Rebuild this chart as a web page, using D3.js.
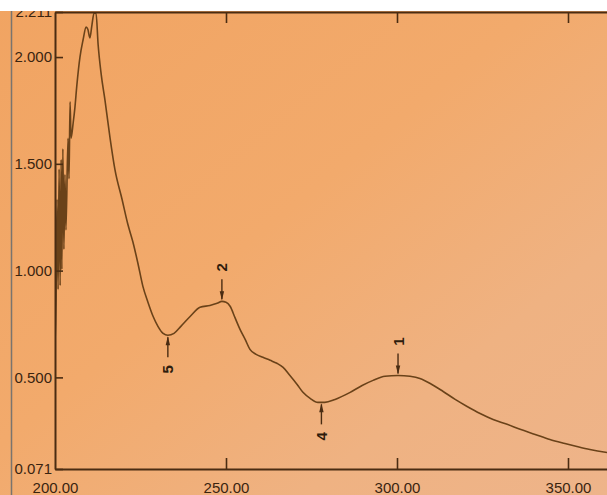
<!DOCTYPE html>
<html>
<head>
<meta charset="utf-8">
<script src="https://cdn.jsdelivr.net/npm/d3@7"></script>
<style>
  html, body { margin: 0; padding: 0; background: #ffffff; }
  svg { display: block; }
</style>
</head>
<body>
<svg id="chart" width="607" height="495"></svg>
<script>
// UV absorption spectrum: wavelength (nm) vs absorbance
const wavelength = [200.0, 200.3, 200.6, 200.9, 201.2, 201.5, 201.8, 202.0, 202.3, 202.6, 202.9, 203.2, 203.8, 204.1, 204.4, 204.7, 205.3, 205.8, 206.4, 207.3, 208.2, 209.1, 209.6, 210.2, 210.8, 211.4, 212.0, 212.6, 213.5, 214.6, 216.1, 217.5, 219.6, 221.3, 222.8, 224.3, 225.7, 227.2, 228.7, 230.1, 231.6, 233.0, 234.8, 236.8, 239.5, 242.4, 245.3, 247.4, 248.8, 250.0, 251.2, 252.6, 254.1, 255.6, 257.0, 258.8, 260.8, 262.9, 264.9, 266.7, 268.7, 270.8, 272.5, 274.6, 276.9, 278.9, 281.9, 286.3, 289.8, 293.0, 296.5, 300.3, 303.8, 306.7, 310.2, 313.5, 317.0, 320.5, 324.3, 328.1, 332.2, 336.0, 340.4, 344.7, 349.1, 352.6, 356.4, 361.4, 365.0];
const absorbance = [0.655, 0.865, 1.334, 0.912, 1.475, 0.930, 1.520, 1.006, 1.570, 1.100, 1.450, 1.190, 1.620, 1.430, 1.790, 1.620, 1.690, 1.760, 1.870, 2.000, 2.080, 2.140, 2.130, 2.090, 2.150, 2.205, 2.205, 2.060, 1.920, 1.800, 1.620, 1.475, 1.334, 1.217, 1.133, 1.030, 0.926, 0.851, 0.785, 0.739, 0.706, 0.697, 0.706, 0.739, 0.785, 0.828, 0.837, 0.847, 0.856, 0.852, 0.833, 0.781, 0.725, 0.678, 0.631, 0.608, 0.594, 0.580, 0.566, 0.547, 0.509, 0.467, 0.430, 0.402, 0.383, 0.383, 0.397, 0.430, 0.462, 0.486, 0.505, 0.509, 0.505, 0.495, 0.467, 0.434, 0.397, 0.364, 0.331, 0.303, 0.280, 0.257, 0.233, 0.209, 0.190, 0.176, 0.162, 0.148, 0.140];

// Axis ticks
const xTicks = [200, 250, 300, 350];
const yTicks = [0.071, 0.5, 1.0, 1.5, 2.0, 2.211];

// Peak / valley picks
const pickLabels = ["1", "2", "4", "5"];
const pickNm = [300.3, 248.8, 277.9, 233.0];
const pickKind = ["peak", "peak", "valley", "valley"];

const svg = d3.select("#chart");
const W = 607, H = 495;

// paper background with uneven lighting
const defs = svg.append("defs");
const grad = defs.append("linearGradient").attr("id", "paper")
  .attr("x1", "0%").attr("y1", "0%").attr("x2", "100%").attr("y2", "100%");
grad.append("stop").attr("offset", "0%").attr("stop-color", "#f1a462");
grad.append("stop").attr("offset", "45%").attr("stop-color", "#f2aa6c");
grad.append("stop").attr("offset", "75%").attr("stop-color", "#efb282");
grad.append("stop").attr("offset", "100%").attr("stop-color", "#eeb48a");
svg.append("rect").attr("width", W).attr("height", H).attr("fill", "url(#paper)");

const x = d3.scaleLinear().domain([200, 400]).range([55, 55 + 200 * 3.42]);
const y = d3.scaleLinear().domain([0.071, 2.211]).range([469, 12]);

const ink = "#4a2c12";
const curveInk = "#6a4219";

defs.append("clipPath").attr("id", "plotClip")
  .append("rect").attr("x", 55).attr("y", 12).attr("width", W - 55).attr("height", 469 - 12);

// spectrum trace
const pts = wavelength.map((w, i) => [w, absorbance[i]]);
const line = d3.line().x(d => x(d[0])).y(d => y(d[1])).curve(d3.curveMonotoneX);
svg.append("path")
  .attr("clip-path", "url(#plotClip)")
  .attr("d", line(pts))
  .attr("fill", "none")
  .attr("stroke", curveInk)
  .attr("stroke-width", 1.6)
  .attr("stroke-linejoin", "round");

// frame: left, bottom and top axes with inward ticks
const fontFam = "'Liberation Sans', Arial, sans-serif";
const gLeft = svg.append("g").attr("transform", `translate(${x(200)},0)`)
  .call(d3.axisLeft(y).tickValues(yTicks).tickFormat(d3.format(".3f")).tickSizeInner(-8).tickSizeOuter(0).tickPadding(3));
const gBottom = svg.append("g").attr("transform", `translate(0,${y(0.071)})`)
  .call(d3.axisBottom(x).tickValues(xTicks).tickFormat(d3.format(".2f")).tickSizeInner(-11).tickSizeOuter(0).tickPadding(10));
const gTop = svg.append("g").attr("transform", `translate(0,${y(2.211)})`)
  .call(d3.axisTop(x).tickValues(xTicks.slice(1)).tickFormat("").tickSizeInner(-11).tickSizeOuter(0));

[gLeft, gBottom, gTop].forEach(g => {
  g.select(".domain").attr("stroke", ink).attr("stroke-width", 2);
  g.selectAll(".tick line").attr("stroke", ink).attr("stroke-width", 1.6);
  g.selectAll(".tick text").attr("fill", "#3a2410")
    .style("font-family", fontFam).style("font-size", "15px");
});
gBottom.selectAll(".tick").filter(d => d === 200).select("line").remove();
gBottom.selectAll(".tick text").attr("dy", "0.9em");

// value at a wavelength
function absAt(nm) {
  for (let i = 1; i < wavelength.length; i++) {
    if (wavelength[i] >= nm) {
      const t = (nm - wavelength[i - 1]) / (wavelength[i] - wavelength[i - 1]);
      return absorbance[i - 1] + t * (absorbance[i] - absorbance[i - 1]);
    }
  }
  return absorbance[absorbance.length - 1];
}

// pick arrows with rotated numbers
pickLabels.forEach((lab, i) => {
  const px = x(pickNm[i]);
  const py = y(absAt(pickNm[i]));
  const s = pickKind[i] === "peak" ? -1 : 1;
  const g = svg.append("g");
  g.append("line")
    .attr("x1", px).attr("x2", px)
    .attr("y1", py + s * 2).attr("y2", py + s * 22)
    .attr("stroke", ink).attr("stroke-width", 1.4);
  g.append("path")
    .attr("d", `M${px},${py + s * 1} L${px - 2.2},${py + s * 10} L${px + 2.2},${py + s * 10} Z`)
    .attr("fill", ink);
  g.append("text")
    .attr("transform", `translate(${px},${py + s * 34}) rotate(-90)`)
    .attr("text-anchor", "middle")
    .attr("dominant-baseline", "central")
    .attr("fill", "#2e1c0c")
    .style("font-family", fontFam)
    .style("font-size", "15px")
    .style("font-weight", "bold")
    .text(lab);
});

// photo edge: white strip along the top and a grey rule on the left
svg.append("rect").attr("x", 0).attr("y", 0).attr("width", W).attr("height", 11).attr("fill", "#ffffff");
svg.append("line").attr("x1", 11.5).attr("x2", 11.5).attr("y1", 11).attr("y2", H)
  .attr("stroke", "#7a746e").attr("stroke-width", 1.5);
</script>
</body>
</html>
